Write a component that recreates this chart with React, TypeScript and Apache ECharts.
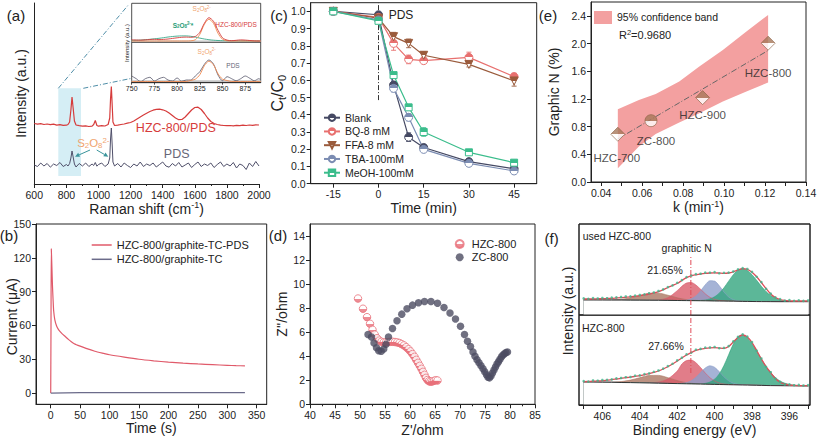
import React, { useEffect, useRef } from "react";
import * as echarts from "echarts";

const FONT = "'Liberation Sans', Arial, Helvetica, sans-serif";

// ---------------- (a) Raman spectra ----------------
const RAMAN_X = [600,620,640,660,680,700,720,740,760,780,800,810,820,828,835,842,850,860,880,900,920,940,960,970,980,990,1000,1020,1040,1060,1070,1075,1080,1085,1090,1100,1120,1140,1160,1180,1200,1220,1240,1260,1280,1300,1320,1340,1360,1380,1400,1420,1440,1460,1480,1500,1520,1540,1560,1580,1600,1620,1640,1660,1680,1700,1720,1740,1760,1780,1800,1820,1840,1860,1880,1900,1920,1940,1960,1980,2000];
const RAMAN_HZC = [60.5,59.8,60.3,59.5,60.0,59.3,59.8,58.9,59.4,58.6,58.8,59.5,62,74,87,76,63,59,58.3,57.8,58.2,57.5,57.9,59.5,63.5,58.5,57.8,58.3,58.0,59.5,66,85,97.5,80,62,58.5,58.8,59.5,60.0,60.8,61.5,63,65,67,69,70.8,72.5,73.8,74.6,74.8,74.2,73,71,68.5,66,64.3,64.5,67,70.5,74,76.5,76.8,74.5,70.5,66,62.5,60.5,59.5,58.8,58.5,58.3,58.5,58.2,58.6,58.4,58.8,58.5,59.0,58.7,59.2,59.0];
const RAMAN_PDS = [19,17.5,21,18,20.5,16.8,20,18.5,21.5,17.5,19.5,18,20.5,26,33,27,20,17,20.5,18,21,17.5,20,18.5,21.5,17.8,19.5,21,17.5,20,26,45,56,40,22,18,20.5,17,21,18.5,16.5,20,18,22,17.5,20,18.5,21,17,19.5,22,18,16.8,20.5,18,21.5,17,19,21,16.5,19.5,22,17.5,20,18.5,21,16.5,19.5,22,17.5,20,18,21.5,16,20,18.5,14.5,21,17.5,22.5,18];

const INSET_X = [750,755,760,765,770,775,780,785,790,795,800,805,810,815,820,825,830,835,840,845,850,855,860,865,870,875,880,885,890,892];
const INSET_HZC = [2.5,2.3,2.2,2.5,2.8,3.0,2.7,2.9,3.3,3.9,4.5,5.0,5.2,5.0,5.8,10,19,24.6,21,12,4.5,2.2,1.6,2.0,2.4,2.2,1.8,1.4,1.3,1.3];
const INSET_STAR = [1.8,2.0,2.2,2.6,3.0,3.5,4.0,4.6,5.3,5.8,6.2,6.4,6.4,6.0,5.2,4.2,3.3,2.6,2.1,1.8,1.6,1.55,1.5,1.45,1.4,1.4,1.35,1.3,1.3,1.3];
const INSET_FIT_TOP = [1.3,1.3,1.3,1.3,1.3,1.3,1.3,1.3,1.3,1.3,1.3,1.3,1.3,1.5,2.5,8,18,23,19,9,3,1.5,1.3,1.3,1.3,1.3,1.3,1.3,1.3,1.3];
const INSET_PDS = [6.7,4.0,1.0,4.0,5.4,1.7,4.0,5.4,2.7,1.7,4.7,1.4,2.7,2.7,6.7,11,18.4,22.7,18.7,7.7,2.0,6.0,4.0,2.0,4.0,6.7,4.4,2.0,4.0,2.7];
const INSET_FIT_BOT = [1.2,1.2,1.2,1.2,1.2,1.2,1.2,1.2,1.2,1.2,1.2,1.2,1.2,2.3,3.5,8,17,21.5,18,9,3.5,2.2,1.2,1.2,1.2,1.2,1.2,1.2,1.2,1.2];
const INSET_BASE_X = [750, 892];
const INSET_BASE_TOP = [1.0, 1.0];
const INSET_BASE_BOT = [1.6, 1.6];
const INSET_TICKS = [750, 775, 800, 825, 850, 875];

// ---------------- (b) i-t curves ----------------
const CA_T = [0,0.5,1,2,3,4,5,7,10,13,16,20,25,30,35,40,50,60,75,90,100,125,150,175,200,225,250,275,300,315,330];
const CA_PDS = [0,60,128,112,95,83,73,65,59.5,56.5,54.5,52.3,50,47.6,45.5,43.8,41.6,39.6,37.1,35.2,34.0,31.9,30.0,28.6,27.4,26.5,25.8,25.2,24.6,24.3,24.1];
const CA_T2 = [0,50,100,150,200,250,300,330];
const CA_TC = [0,0.3,0.4,0.3,0.3,0.3,0.3,0.3];
const B_XLABELS = [0,50,100,150,200,250,300,350];
const B_YLABELS = [0,30,60,90,120,150];

// ---------------- (c) quenching kinetics ----------------
const KIN_T = [-15,0,5,10,15,30,45];
const KIN_BLANK = [1.0,0.98,0.573,0.27,0.21,0.128,0.087];
const KIN_BQ = [1.0,0.965,0.814,0.721,0.714,0.733,0.621];
const KIN_FFA = [1.0,0.96,0.853,0.814,0.745,0.692,0.596];
const KIN_TBA = [1.0,0.95,0.553,0.385,0.199,0.118,0.074];
const KIN_MEOH = [1.0,0.945,0.63,0.443,0.30,0.182,0.122];
const ERR_BLANK = [0.005,0.01,0.02,0.025,0.015,0.01,0.01];
const ERR_BQ = [0.005,0.01,0.04,0.025,0.015,0.03,0.02];
const ERR_FFA = [0.005,0.01,0.025,0.025,0.02,0.015,0.03];
const ERR_TBA = [0.005,0.01,0.02,0.02,0.01,0.01,0.01];
const ERR_MEOH = [0.005,0.01,0.015,0.015,0.025,0.015,0.01];
const PDS_T = [0, 0];
const PDS_Y = [0.485, 1.05];
const C_XLABELS = [-15,0,15,30,45];
const C_YLABELS = [0,0.1,0.2,0.3,0.4,0.5,0.6,0.7,0.8,0.9,1.0];

// ---------------- (d) Nyquist ----------------
const EIS_HZC_X = [49.6,50.6,51.4,52.0,52.5,52.95,53.4,53.85,54.3,54.75,55.2,55.65,56.1,56.55,57.0,57.45,57.9,58.35,58.8,59.25,59.7,60.1,60.5,60.9,61.25,61.6,61.95,62.3,62.6,62.9,63.2,63.5,63.8,64.1,64.45,64.8,65.15,65.5];
const EIS_HZC_Y = [8.8,7.95,7.25,6.7,6.2,5.8,5.5,5.3,5.2,5.15,5.15,5.18,5.2,5.2,5.18,5.15,5.1,5.0,4.9,4.75,4.58,4.4,4.18,3.95,3.7,3.45,3.2,2.95,2.7,2.45,2.2,2.02,1.92,1.88,1.9,1.95,2.0,1.98];
const EIS_ZC_X = [51.6,52.3,52.8,53.3,53.75,54.25,54.75,55.2,55.7,56.5,57.4,58.35,59.4,60.5,61.7,62.9,64.2,65.5,66.8,68.0,69.1,70.1,70.9,71.5,72.1,72.6,73.0,73.4,73.8,74.2,74.6,74.95,75.3,75.6,75.9,76.2,76.5,76.8,77.1,77.4,77.7,78.0,78.3,78.6,78.9,79.2,79.5];
const EIS_ZC_Y = [5.8,5.6,5.1,4.7,4.45,4.42,4.6,5.0,5.6,6.3,6.95,7.5,7.95,8.25,8.45,8.55,8.55,8.4,8.05,7.6,7.1,6.5,5.8,5.25,4.8,4.35,4.0,3.7,3.45,3.2,2.95,2.7,2.45,2.25,2.2,2.35,2.6,2.85,3.1,3.35,3.55,3.75,3.95,4.1,4.2,4.3,4.35];
const D_YLABELS = [0,2,4,6,8,10,12,14];

// ---------------- (e) correlation ----------------
const SAMPLES = ["HZC-700", "ZC-800", "HZC-900", "HZC-800"];
const K_VAL = [0.0481, 0.0643, 0.0895, 0.1215];
const GN_VAL = [0.69, 0.886, 1.219, 2.005];
const FIT_K = [0.048, 0.1215];
const FIT_GN = [0.62, 1.90];
const BAND_K = [0.0481,0.0584,0.0666,0.0781,0.0879,0.0994,0.1109,0.1215];
const BAND_LO = [0.198,0.511,0.694,0.858,0.993,1.161,1.306,1.436];
const BAND_HI = [1.051,1.185,1.272,1.45,1.667,1.908,2.173,2.414];
const E_XLABELS = [0.04,0.06,0.08,0.10,0.12,0.14];
const E_XTICKS = [0.04,0.05,0.06,0.07,0.08,0.09,0.10,0.11,0.12,0.13,0.14];
const E_YLABELS = [0,0.4,0.8,1.2,1.6,2.0,2.4];

// ---------------- (f) XPS N1s ----------------
const X_F = [407,406.5,406,405.5,405,404.5,404,403.5,403,402.5,402,401.75,401.5,401.25,401,400.75,400.5,400.25,400,399.75,399.5,399.25,399,398.75,398.5,398.25,398,397.75,397.5,397.25,397,396.5,396,395.5,395];
const F1_BASE = [15.0,15.0,14.95,14.9,14.9,14.85,14.8,14.75,14.7,14.6,14.5,14.45,14.4,14.35,14.3,14.25,14.2,14.1,14.0,13.95,13.9,13.85,13.8,13.7,13.6,13.55,13.5,13.45,13.4,13.4,13.35,13.3,13.3,13.3,13.3];
const F1_OTHER = [0,0,0,0.2,0.8,2.3,4.7,6.9,7.1,5.2,2.7,1.7,1.0,0.5,0.3,0.1,0,0,0,0,0,0,0,0,0,0,0,0,0,0,0,0,0,0,0];
const F1_GRAPHITIC = [0,0,0,0,0,0,0,0,0.4,2.7,9.8,14.3,17.6,18.1,15.7,11.5,7.0,3.6,1.6,0.6,0.2,0,0,0,0,0,0,0,0,0,0,0,0,0,0];
const F1_PYRROLIC = [0,0,0,0,0,0,0,0,0,0,0,0.1,0.5,1.8,4.7,9.8,16.0,20.2,19.9,15.3,9.1,4.2,1.5,0.4,0.1,0,0,0,0,0,0,0,0,0,0];
const F1_PYRIDINIC = [0,0,0,0,0,0,0,0,0,0,0,0,0,0,0.1,0.3,0.8,2.0,4.2,7.9,13.3,20.0,26.5,31.2,32.7,30.9,26.8,21.2,15.3,10.1,6.2,1.7,0.3,0,0];
const F2_BASE = [23.0,22.9,22.8,22.7,22.5,22.4,22.2,22.0,21.8,21.6,21.4,21.3,21.2,21.1,21.0,20.9,20.8,20.7,20.6,20.5,20.4,20.3,20.2,20.1,20.0,19.9,19.8,19.7,19.6,19.5,19.4,19.3,19.2,19.1,19.0];
const F2_OTHER = [0,0,0,0.2,0.9,2.5,5.1,7.5,7.8,5.7,3.0,1.9,1.1,0.6,0.3,0.1,0,0,0,0,0,0,0,0,0,0,0,0,0,0,0,0,0,0,0];
const F2_GRAPHITIC = [0,0,0,0,0,0,0,0.1,1.1,4.5,12.5,19.7,23.2,23.8,21.3,16.5,11.2,6.6,3.4,1.5,0.6,0.2,0,0,0,0,0,0,0,0,0,0,0,0,0];
const F2_PYRROLIC = [0,0,0,0,0,0,0,0,0,0,0,0.4,1.2,3.1,6.7,11.6,16.2,18.5,17.1,12.8,7.8,3.9,1.6,0.5,0.1,0,0,0,0,0,0,0,0,0,0];
const F2_PYRIDINIC = [0,0,0,0,0,0,0,0,0,0,0,0,0,0,0,0,0.8,2.2,5.2,10.6,19.1,29.9,40.7,48.2,49.9,47.2,41.7,34.4,26.5,19.0,12.7,4.6,1.3,0.3,0];
const X_DOT = [407,406.75,406.5,406.25,406,405.75,405.5,405.25,405,404.75,404.5,404.25,404,403.75,403.5,403.25,403,402.75,402.5,402.25,402,401.75,401.5,401.25,401,400.75,400.5,400.25,400,399.75,399.5,399.25,399,398.75,398.5,398.25,398,397.75,397.5,397.25,397,396.75,396.5,396.25,396,395.75,395.5,395.25,395];
const F1_ENV = [16.0,16.0,16.1,16.2,16.3,16.5,16.7,17.0,17.3,17.7,18.1,18.7,19.3,20.1,21.0,22.1,23.3,25.3,27.5,29.5,31.5,34.5,37.3,39.2,40.2,41.0,41.6,42.0,42.2,41.9,41.6,42.0,43.2,45.0,46.3,45.6,42.8,38.3,32.5,26.5,21.0,17.5,15.5,14.6,14.2,14.0,14.0,14.0,14.0];
const F1_DOT = [16.6,16.2,16.9,16.5,17.0,16.8,17.4,17.6,18.0,18.5,18.6,19.4,20.0,20.6,21.8,22.5,24.0,25.6,27.9,29.6,32.2,34.9,37.9,39.5,40.9,41.3,42.4,42.3,42.9,41.7,42.2,42.4,43.5,45.6,46.9,46.0,43.1,38.2,32.9,26.2,21.4,17.6,15.9,14.3,14.9,14.2,14.7,14.1,14.5];
const F2_ENV = [23.3,23.5,23.8,24.0,24.3,24.8,25.3,26.0,26.7,27.3,27.9,28.6,29.3,30.3,31.4,32.6,34.0,36.0,38.3,41.0,44.0,47.0,50.0,52.3,54.6,55.9,56.7,57.2,57.3,56.9,56.6,58.5,63.0,67.5,70.0,68.0,62.5,54.5,46.0,38.5,32.3,26.5,22.7,20.8,20.0,19.6,19.4,19.3,19.3];
const F2_DOT = [23.9,23.4,24.5,24.3,25.0,25.2,25.6,26.6,27.0,27.8,28.0,29.3,29.6,30.9,31.6,33.2,34.5,36.4,38.9,41.2,44.6,47.3,50.6,52.4,55.3,56.1,57.4,57.5,58.0,56.8,57.1,58.9,63.6,68.1,70.6,68.4,62.9,54.3,46.5,38.2,32.8,26.4,23.2,20.5,20.6,19.8,20.1,19.5,19.9];
const GN_BE = [401.27, 401.27];
const GN_TOP = [0, 60];
const GN_BOT = [32, 90];
const F_XLABELS = [396,398,400,402,404,406];
const F_XTICKS = [395,396,397,398,399,400,401,402,403,404,405,406,407];

// ---------------- helpers ----------------
const mk = (xs: number[], ys: number[]) => xs.map((x, i) => [x, ys[i]]);

function merge(a: any, b: any): any {
  const r: any = { ...a };
  for (const k in b) {
    const v = b[k];
    if (v && typeof v === "object" && !Array.isArray(v) && !(v instanceof echarts.graphic.LinearGradient) && r[k] && typeof r[k] === "object") r[k] = merge(r[k], v);
    else r[k] = v;
  }
  return r;
}

const AXIS_BASE = {
  type: "value",
  nameLocation: "middle",
  axisLine: { show: true, onZero: false, lineStyle: { color: "#222", width: 1 } },
  axisTick: { show: true, inside: false, length: 4, lineStyle: { color: "#222", width: 1 } },
  axisLabel: { show: true, color: "#222", fontSize: 10.5, fontFamily: FONT, margin: 5, formatter: (v: number) => String(v) },
  splitLine: { show: false },
  nameTextStyle: { color: "#222", fontSize: 14, fontFamily: FONT },
};
const ax = (gi: number, ...over: any[]) => over.reduce((acc, o) => merge(acc, o), merge(AXIS_BASE, { gridIndex: gi }));
const cv = (labels: number[], ticks: number[]) => ({ axisLabel: { customValues: labels }, axisTick: { customValues: ticks } });
const hidden = { axisLine: { show: false }, axisTick: { show: false }, axisLabel: { show: false } };

const SUP = { fontSize: 9, fontFamily: FONT, color: "#222", padding: [0, 0, 7, 0] };
const SUB = { fontSize: 11, fontFamily: FONT, color: "#222", padding: [8, 0, 0, 0] };

const half = (c: string, top = true) =>
  new echarts.graphic.LinearGradient(0, 0, 0, 1, [
    { offset: 0, color: top ? c : "#fff" },
    { offset: 0.5, color: top ? c : "#fff" },
    { offset: 0.5, color: top ? "#fff" : c },
    { offset: 1, color: top ? "#fff" : c },
  ]);

const T = (x: number, y: number, text: string, o: any = {}) => ({
  type: "text",
  x,
  y,
  z: 50,
  rotation: o.rot || 0,
  silent: true,
  style: {
    text,
    fill: o.color || "#222",
    fontSize: o.size || 11,
    fontFamily: FONT,
    fontWeight: o.weight || "normal",
    align: o.align || "center",
    verticalAlign: "middle",
    rich: o.rich,
  },
});

const s2o8Rich = (size: number, color: string, weight = "normal") => ({
  n: { fontSize: size, fontFamily: FONT, fill: color, fontWeight: weight },
  s: { fontSize: size * 0.68, fontFamily: FONT, fill: color, fontWeight: weight, padding: [size * 0.5, 0, 0, 0] },
  p: { fontSize: size * 0.68, fontFamily: FONT, fill: color, fontWeight: weight, padding: [0, 0, size * 0.5, 0] },
});
const S2O8 = "{n|S}{s|2}{n|O}{s|8}{p|2-}";

const arrow = (x1: number, y1: number, x2: number, y2: number, color: string) => {
  const dx = x2 - x1, dy = y2 - y1;
  const L = Math.hypot(dx, dy);
  const ux = dx / L, uy = dy / L;
  const bx = x2 - 4.5 * ux, by = y2 - 4.5 * uy;
  const nx = -uy, ny = ux;
  return [
    { type: "line", z: 5, shape: { x1, y1, x2: bx, y2: by }, style: { stroke: color, lineWidth: 1 } },
    { type: "polygon", z: 5, shape: { points: [[x2, y2], [bx + 2.2 * nx, by + 2.2 * ny], [bx - 2.2 * nx, by - 2.2 * ny]] }, style: { fill: color } },
  ];
};

const KIN_STYLE = [
  { name: "Blank", vals: KIN_BLANK, err: ERR_BLANK, color: "#454963", symbol: "circle", rot: 0 },
  { name: "BQ-8 mM", vals: KIN_BQ, err: ERR_BQ, color: "#e8706f", symbol: "circle", rot: 0 },
  { name: "FFA-8 mM", vals: KIN_FFA, err: ERR_FFA, color: "#9a5b3c", symbol: "triangle", rot: 180 },
  { name: "TBA-100mM", vals: KIN_TBA, err: ERR_TBA, color: "#7b8cb2", symbol: "circle", rot: 0 },
  { name: "MeOH-100mM", vals: KIN_MEOH, err: ERR_MEOH, color: "#3bbd8c", symbol: "rect", rot: 0 },
];

const XPS_COLORS = ["#a9735f", "#d85868", "#8c9dca", "#2ea37b"];

function xpsSeries(gi: number, base: number[], comps: number[][], env: number[], dots: number[], gn: number[]) {
  const out: any[] = comps.map((c, k) => ({
    type: "line",
    xAxisIndex: gi,
    yAxisIndex: gi,
    data: X_F.map((x, i) => [x, base[i] + c[i]]),
    symbol: "none",
    smooth: 0.3,
    silent: true,
    lineStyle: { color: XPS_COLORS[k], width: 0.6 },
    areaStyle: { color: XPS_COLORS[k], opacity: 0.78, origin: "start" },
    z: 2,
  }));
  out.push({
    type: "line", xAxisIndex: gi, yAxisIndex: gi, data: mk(X_F, base), symbol: "none", silent: true,
    lineStyle: { color: "#222", width: 0.9 }, areaStyle: { color: "#fff", opacity: 1, origin: "start" }, z: 3,
  });
  out.push({
    type: "line", xAxisIndex: gi, yAxisIndex: gi, data: mk(X_DOT, env), symbol: "none", smooth: 0.3, silent: true,
    lineStyle: { color: "#e04c58", width: 1.3 }, z: 4,
  });
  out.push({
    type: "scatter", xAxisIndex: gi, yAxisIndex: gi, data: mk(X_DOT, dots), symbolSize: 2.6, silent: true,
    itemStyle: { color: "#3db58b" }, z: 5,
  });
  out.push({
    type: "line", xAxisIndex: gi, yAxisIndex: gi, data: mk(GN_BE, gn), symbol: "none", silent: true,
    lineStyle: { color: "#e04c58", width: 1, type: [5, 2, 1, 2] }, z: 6,
  });
  return out;
}

function buildOption() {
  const gridBox = { show: true, borderColor: "#222", borderWidth: 1, backgroundColor: "transparent", outerBoundsMode: "none" };
  const grid = [
    { left: 34.3, top: 3, width: 224.7, height: 181, outerBoundsMode: "none" },
    { ...gridBox, left: 131.7, top: 3.3, width: 129, height: 39, borderWidth: 0.8, backgroundColor: "#fff" },
    { ...gridBox, left: 131.7, top: 42.3, width: 129, height: 40.4, borderWidth: 0.8, backgroundColor: "#fff" },
    { ...gridBox, left: 36, top: 224, width: 230.7, height: 180.3 },
    { ...gridBox, left: 310.7, top: 2.7, width: 226, height: 181 },
    { ...gridBox, left: 310, top: 224, width: 225, height: 180.3 },
    { ...gridBox, left: 591, top: 2, width: 215, height: 180 },
    { ...gridBox, left: 579, top: 224, width: 231, height: 91 },
    { ...gridBox, left: 579, top: 315, width: 231, height: 90 },
  ];

  const xAxis = [
    ax(0, {
      min: 600, max: 2000, interval: 200,
      minorTick: { show: true, splitNumber: 2, length: 2, lineStyle: { color: "#222" } },
      name: "Raman shift (cm{sup|-1})", nameGap: 14, nameTextStyle: { rich: { sup: SUP } },
    }),
    ax(1, hidden, { min: 750, max: 892 }),
    ax(2, { min: 750, max: 892, axisLine: { lineStyle: { width: 0.8 } }, axisTick: { length: 2, lineStyle: { width: 0.8 } }, axisLabel: { fontSize: 7, margin: 2 } }, cv(INSET_TICKS, INSET_TICKS)),
    ax(3, { min: -25, max: 367, name: "Time (s)", nameGap: 17 }, cv(B_XLABELS, B_XLABELS)),
    ax(4, { min: -22.5, max: 52.5, name: "Time (min)", nameGap: 15 }, cv(C_XLABELS, C_XLABELS)),
    ax(5, { min: 40, max: 85, interval: 5, minorTick: { show: true, splitNumber: 2, length: 2, lineStyle: { color: "#222" } }, name: "Z'/ohm", nameGap: 19 }),
    ax(6, { min: 0.035, max: 0.14, name: "k (min{sup|-1})", nameGap: 17, nameTextStyle: { rich: { sup: SUP } }, axisLabel: { formatter: (v: number) => v.toFixed(2) } }, cv(E_XLABELS, E_XTICKS)),
    ax(7, hidden, { min: 394.9, max: 407.25, inverse: true }),
    ax(8, { min: 394.9, max: 407.25, inverse: true, name: "Binding energy (eV)", nameGap: 18 }, cv(F_XLABELS, F_XTICKS)),
  ];

  const yAxis = [
    ax(0, { min: 0, max: 181, axisTick: { show: false }, axisLabel: { show: false }, name: "Intensity (a.u.)", nameGap: 6.6 }),
    ax(1, hidden, { min: 0, max: 39 }),
    ax(2, hidden, { min: 0, max: 40.4 }),
    ax(3, { min: -10, max: 150 }, cv(B_YLABELS, B_YLABELS)),
    ax(4, {
      min: 0, max: 1.05, name: "C{sub|t}/C{sub|0}", nameGap: 17,
      nameTextStyle: { fontSize: 16, rich: { sub: SUB } },
      axisLabel: { formatter: (v: number) => v.toFixed(1) },
    }, cv(C_YLABELS, C_YLABELS)),
    ax(5, { min: 0, max: 15, name: "Z''/ohm", nameGap: 19 }, cv(D_YLABELS, D_YLABELS)),
    ax(6, { min: 0, max: 2.6, name: "Graphic N (%)", nameGap: 30, axisLabel: { formatter: (v: number) => v.toFixed(1) } }, cv(E_YLABELS, E_YLABELS)),
    ax(7, hidden, { min: 0, max: 91 }),
    ax(8, hidden, { min: 0, max: 90 }),
  ];

  const series: any[] = [];

  // (a)
  series.push(
    { type: "line", xAxisIndex: 0, yAxisIndex: 0, data: mk(RAMAN_X, RAMAN_PDS), symbol: "none", lineStyle: { color: "#50506a", width: 1 }, z: 2 },
    { type: "line", xAxisIndex: 0, yAxisIndex: 0, data: mk(RAMAN_X, RAMAN_HZC), symbol: "none", lineStyle: { color: "#d63c3c", width: 1.2 }, z: 3 },
    { type: "line", xAxisIndex: 1, yAxisIndex: 1, data: mk(INSET_BASE_X, INSET_BASE_TOP), symbol: "none", lineStyle: { color: "#c4c4c4", width: 1.6 }, z: 2 },
    { type: "line", xAxisIndex: 1, yAxisIndex: 1, data: mk(INSET_X, INSET_STAR), symbol: "none", smooth: 0.3, lineStyle: { color: "#3aa88a", width: 0.9 }, z: 3 },
    { type: "line", xAxisIndex: 1, yAxisIndex: 1, data: mk(INSET_X, INSET_FIT_TOP), symbol: "none", smooth: 0.3, lineStyle: { color: "#f08a50", width: 0.9 }, z: 3 },
    { type: "line", xAxisIndex: 1, yAxisIndex: 1, data: mk(INSET_X, INSET_HZC), symbol: "none", smooth: 0.3, lineStyle: { color: "#d63c3c", width: 0.9 }, z: 4 },
    { type: "line", xAxisIndex: 2, yAxisIndex: 2, data: mk(INSET_BASE_X, INSET_BASE_BOT), symbol: "none", lineStyle: { color: "#c4c4c4", width: 1.6 }, z: 2 },
    { type: "line", xAxisIndex: 2, yAxisIndex: 2, data: mk(INSET_X, INSET_PDS), symbol: "none", smooth: 0.3, lineStyle: { color: "#55556a", width: 0.8 }, z: 3 },
    { type: "line", xAxisIndex: 2, yAxisIndex: 2, data: mk(INSET_X, INSET_FIT_BOT), symbol: "none", smooth: 0.3, lineStyle: { color: "#f08a50", width: 0.9 }, z: 4 },
  );

  // (b)
  series.push(
    { name: "HZC-800/graphite-TC-PDS", type: "line", xAxisIndex: 3, yAxisIndex: 3, data: mk(CA_T, CA_PDS), symbol: "none", smooth: 0.2, lineStyle: { color: "#e05a6a", width: 1.2 }, itemStyle: { color: "#e05a6a" } },
    { name: "HZC-800/graphite-TC", type: "line", xAxisIndex: 3, yAxisIndex: 3, data: mk(CA_T2, CA_TC), symbol: "none", lineStyle: { color: "#6b6b8a", width: 1.2 }, itemStyle: { color: "#6b6b8a" } },
  );

  // (c)
  KIN_STYLE.forEach((k) => {
    series.push({
      type: "custom", xAxisIndex: 4, yAxisIndex: 4, z: 1, silent: true,
      data: KIN_T.map((t, i) => [t, k.vals[i], k.err[i]]),
      encode: { x: 0, y: 1 },
      renderItem: (_p: any, api: any) => {
        const x = api.value(0), y = api.value(1), e = api.value(2);
        const a = api.coord([x, y + e]), b = api.coord([x, y - e]);
        const w = 2.5;
        const st = { stroke: k.color, lineWidth: 0.9 };
        return {
          type: "group",
          children: [
            { type: "line", shape: { x1: a[0], y1: a[1], x2: b[0], y2: b[1] }, style: st },
            { type: "line", shape: { x1: a[0] - w, y1: a[1], x2: a[0] + w, y2: a[1] }, style: st },
            { type: "line", shape: { x1: b[0] - w, y1: b[1], x2: b[0] + w, y2: b[1] }, style: st },
          ],
        };
      },
    });
  });
  KIN_STYLE.forEach((k) => {
    series.push({
      name: k.name, type: "line", xAxisIndex: 4, yAxisIndex: 4,
      data: mk(KIN_T, k.vals),
      symbol: k.symbol, symbolSize: k.symbol === "rect" ? 7 : 8, symbolRotate: k.rot, showSymbol: true,
      itemStyle: { color: half(k.color, k.rot === 0), borderColor: k.color, borderWidth: 1 },
      lineStyle: { color: k.color, width: 1.2 }, z: 3,
    });
  });
  series.push({
    type: "line", xAxisIndex: 4, yAxisIndex: 4, data: mk(PDS_T, PDS_Y), symbol: "none", silent: true,
    lineStyle: { color: "#333", width: 1, type: [5, 2, 1, 2] }, z: 2,
  });

  // (d)
  series.push(
    { name: "HZC-800", type: "scatter", xAxisIndex: 5, yAxisIndex: 5, data: mk(EIS_HZC_X, EIS_HZC_Y), symbolSize: 7.5, itemStyle: { color: half("#e8707a", false), borderColor: "#e8707a", borderWidth: 1 } },
    { name: "ZC-800", type: "scatter", xAxisIndex: 5, yAxisIndex: 5, data: mk(EIS_ZC_X, EIS_ZC_Y), symbolSize: 7.5, itemStyle: { color: "#4c4c62" } },
  );

  // (e)
  const LABEL_OFF = [[-1, 24], [5, 20], [0, 17], [0, 30]];
  series.push(
    {
      type: "custom", xAxisIndex: 6, yAxisIndex: 6, z: 1, silent: true,
      data: [[BAND_K[0], BAND_LO[0]]],
      encode: { x: 0, y: 1 },
      renderItem: (_p: any, api: any) => {
        const upper = BAND_K.map((k, i) => api.coord([k, BAND_HI[i]]));
        const lower = BAND_K.map((k, i) => api.coord([k, BAND_LO[i]])).reverse();
        return { type: "polygon", shape: { points: [...upper, ...lower] }, style: { fill: "#f3a0a0" } };
      },
    },
    { type: "line", xAxisIndex: 6, yAxisIndex: 6, data: mk(FIT_K, FIT_GN), symbol: "none", silent: true, lineStyle: { color: "#666", width: 1, type: [6, 2, 1, 2] }, z: 2 },
    {
      type: "scatter", xAxisIndex: 6, yAxisIndex: 6, z: 3,
      data: K_VAL.map((k, i) => ({
        value: [k, GN_VAL[i]],
        symbol: i === 1 ? "circle" : "diamond",
        symbolSize: i === 1 ? 12 : 14,
        label: { offset: LABEL_OFF[i] },
      })),
      itemStyle: { color: half("#a8785a", true), borderColor: "#8a6044", borderWidth: 0.8 },
      label: { show: true, position: "inside", color: "#222", fontSize: 11.5, fontFamily: FONT, formatter: (p: any) => SAMPLES[p.dataIndex] },
    },
  );

  // (f)
  series.push(...xpsSeries(7, F1_BASE, [F1_OTHER, F1_GRAPHITIC, F1_PYRROLIC, F1_PYRIDINIC], F1_ENV, F1_DOT, GN_TOP));
  series.push(...xpsSeries(8, F2_BASE, [F2_OTHER, F2_GRAPHITIC, F2_PYRROLIC, F2_PYRIDINIC], F2_ENV, F2_DOT, GN_BOT));

  const legendText = { color: "#222", fontFamily: FONT, fontSize: 11, lineHeight: 12 };
  const legend = [
    { data: ["HZC-800/graphite-TC-PDS", "HZC-800/graphite-TC"], orient: "vertical", left: 91.7, top: 239, icon: "rect", itemWidth: 20, itemHeight: 1.5, itemGap: 2.3, padding: 0, selectedMode: false, textStyle: legendText },
    { data: KIN_STYLE.map((k) => k.name), orient: "vertical", left: 323, top: 111.7, itemWidth: 16, itemHeight: 8, itemGap: 1.75, padding: 0, selectedMode: false, textStyle: { ...legendText, fontSize: 10.5 } },
    { data: ["HZC-800", "ZC-800"], orient: "vertical", left: 454.7, top: 238, itemWidth: 14, itemHeight: 8, itemGap: 1.3, padding: 0, selectedMode: false, textStyle: legendText },
  ];

  const dashBlue = { stroke: "#4f8ea8", lineWidth: 1, lineDash: [5, 2, 1, 2] };
  const graphic: any[] = [
    { type: "rect", z: 0, silent: true, shape: { x: 58.3, y: 88.3, width: 22.7, height: 87.7 }, style: { fill: "#d5eef5" } },
    { type: "line", z: 5, silent: true, shape: { x1: 58.3, y1: 88.3, x2: 128.3, y2: 5 }, style: dashBlue },
    { type: "line", z: 5, silent: true, shape: { x1: 83.3, y1: 88.3, x2: 131.7, y2: 78.3 }, style: dashBlue },
    ...arrow(90, 150, 75, 156.7, "#3a959c"),
    ...arrow(96.7, 150, 108.3, 156.7, "#3a959c"),
    T(16, 15, "(a)", { size: 15 }),
    T(175.8, 128.3, "HZC-800/PDS", { size: 12.5, color: "#d63c3c" }),
    T(176.7, 154, "PDS", { size: 12.5, color: "#666677" }),
    T(93.3, 143, S2O8, { rich: s2o8Rich(11.5, "#f0a46f") }),
    T(201.7, 8.8, S2O8, { rich: s2o8Rich(6.5, "#f0a46f") }),
    T(183, 25, S2O8 + "{n|*}", { rich: s2o8Rich(6.5, "#2a9d78", "bold") }),
    T(236, 24, "HZC-800/PDS", { size: 6.5, color: "#d63c3c" }),
    T(206.7, 51.5, S2O8, { rich: s2o8Rich(6.5, "#f0a46f") }),
    T(233, 65, "PDS", { size: 6.5, color: "#666677" }),
    T(126.7, 43, "Intensity (a.u.)", { size: 6, rot: Math.PI / 2 }),
    T(9, 235, "(b)", { size: 15 }),
    T(12, 316.7, "Current (μA)", { size: 14, rot: Math.PI / 2 }),
    T(279, 15, "(c)", { size: 15 }),
    T(401, 15, "PDS", { size: 12 }),
    T(278, 235, "(d)", { size: 15 }),
    T(548, 15, "(e)", { size: 15 }),
    { type: "rect", z: 5, silent: true, shape: { x: 594, y: 11, width: 18, height: 13 }, style: { fill: "#f3a0a0" } },
    T(617, 17.3, "95% confidence band", { size: 10.5, align: "left" }),
    T(619, 35, "R{sup|2}=0.9680", { size: 11, align: "left", rich: { sup: { fontSize: 7.5, fontFamily: FONT, fill: "#222", padding: [0, 0, 6, 0] } } }),
    T(551.7, 238, "(f)", { size: 15 }),
    T(582.7, 235.7, "used HZC-800", { size: 10.5, align: "left" }),
    T(686.7, 247.7, "graphitic N", { size: 10.5 }),
    T(665, 270, "21.65%", { size: 10.5 }),
    T(582, 328, "HZC-800", { size: 10.5, align: "left" }),
    T(666, 346, "27.66%", { size: 10.5 }),
    T(568, 311, "Intensity (a.u.)", { size: 14, rot: Math.PI / 2 }),
    { type: "rect", z: 100, silent: true, shape: { x: 579, y: 224, width: 231, height: 181 }, style: { fill: "none", stroke: "#222", lineWidth: 1 } },
    { type: "line", z: 100, silent: true, shape: { x1: 579, y1: 315, x2: 810, y2: 315 }, style: { stroke: "#222", lineWidth: 1 } },
  ];

  return {
    animation: false,
    backgroundColor: "#fff",
    textStyle: { fontFamily: FONT },
    grid,
    xAxis,
    yAxis,
    legend,
    series,
    graphic,
  };
}

export default function App() {
  const ref = useRef<HTMLDivElement>(null);
  useEffect(() => {
    if (!ref.current) return;
    const chart = echarts.init(ref.current, null, { renderer: "svg" });
    chart.setOption(buildOption() as any);
    return () => chart.dispose();
  }, []);
  return <div ref={ref} style={{ position: "fixed", left: 0, top: 0, width: 817, height: 440, background: "#fff" }} />;
}
